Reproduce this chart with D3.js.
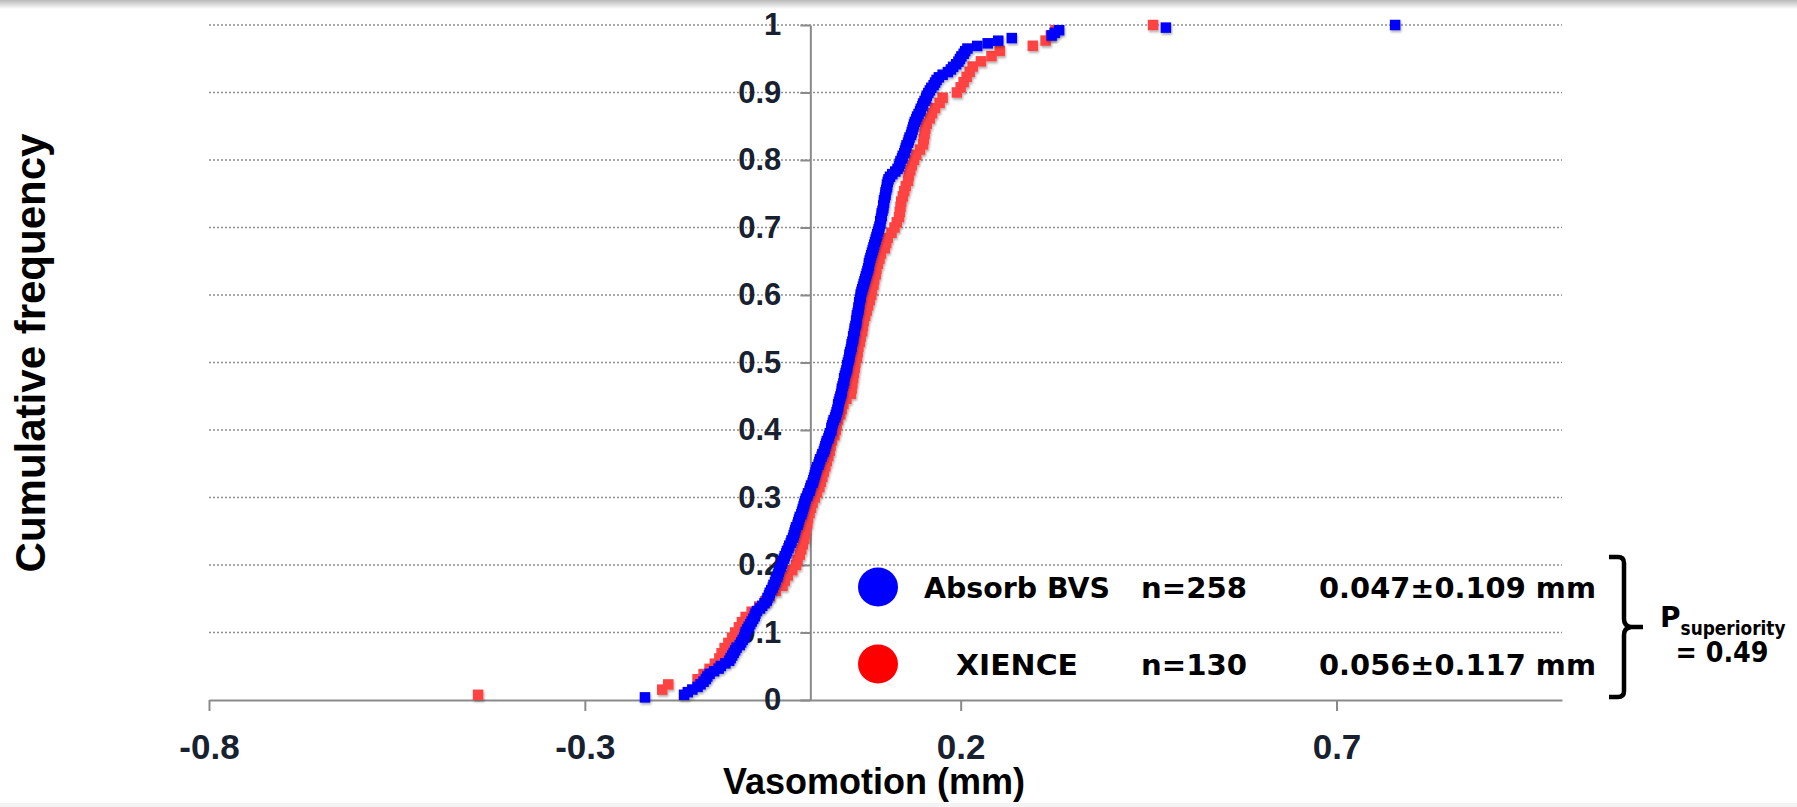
<!DOCTYPE html>
<html>
<head>
<meta charset="utf-8">
<script src="https://cdn.jsdelivr.net/npm/d3@7"></script>
<style>
  html, body { margin: 0; padding: 0; background: #fff; }
  svg { display: block; }
</style>
</head>
<body>
<div id="container"></div>
<script>
// sorted vasomotion values (mm)
var absorbValues = [
  -0.220, -0.168, -0.163, -0.157, -0.150, -0.146, -0.142, -0.139, -0.137, -0.134,
  -0.128, -0.122, -0.119, -0.113, -0.108, -0.106, -0.104, -0.102, -0.100, -0.098,
  -0.094, -0.092, -0.090, -0.088, -0.087, -0.086, -0.084, -0.082, -0.080, -0.078,
  -0.076, -0.074, -0.073, -0.071, -0.067, -0.064, -0.061, -0.058, -0.057, -0.055,
  -0.054, -0.052, -0.050, -0.049, -0.047, -0.046, -0.044, -0.043, -0.042, -0.041,
  -0.039, -0.038, -0.037, -0.035, -0.034, -0.032, -0.031, -0.029, -0.028, -0.026,
  -0.025, -0.023, -0.022, -0.021, -0.020, -0.019, -0.017, -0.016, -0.015, -0.014,
  -0.012, -0.011, -0.010, -0.009, -0.008, -0.007, -0.006, -0.004, -0.003, -0.001,
  0.000, 0.001, 0.003, 0.004, 0.005, 0.006, 0.007, 0.008, 0.009, 0.011,
  0.012, 0.013, 0.015, 0.016, 0.018, 0.019, 0.020, 0.021, 0.022, 0.024,
  0.025, 0.026, 0.028, 0.028, 0.029, 0.030, 0.031, 0.033, 0.034, 0.035,
  0.036, 0.037, 0.037, 0.038, 0.039, 0.040, 0.041, 0.042, 0.042, 0.043,
  0.044, 0.045, 0.045, 0.046, 0.047, 0.048, 0.049, 0.049, 0.050, 0.051,
  0.052, 0.052, 0.053, 0.054, 0.055, 0.055, 0.056, 0.057, 0.057, 0.058,
  0.059, 0.059, 0.060, 0.061, 0.061, 0.062, 0.062, 0.063, 0.064, 0.064,
  0.065, 0.065, 0.066, 0.067, 0.067, 0.068, 0.069, 0.070, 0.071, 0.072,
  0.073, 0.074, 0.075, 0.076, 0.077, 0.078, 0.078, 0.079, 0.080, 0.081,
  0.082, 0.083, 0.084, 0.085, 0.086, 0.087, 0.088, 0.089, 0.090, 0.091,
  0.092, 0.093, 0.093, 0.094, 0.095, 0.095, 0.096, 0.097, 0.097, 0.098,
  0.098, 0.099, 0.100, 0.100, 0.101, 0.102, 0.102, 0.103, 0.104, 0.106,
  0.109, 0.113, 0.116, 0.118, 0.119, 0.120, 0.122, 0.123, 0.125, 0.126,
  0.127, 0.128, 0.130, 0.131, 0.132, 0.134, 0.135, 0.136, 0.137, 0.138,
  0.139, 0.141, 0.142, 0.144, 0.146, 0.147, 0.149, 0.150, 0.152, 0.154,
  0.155, 0.157, 0.159, 0.161, 0.164, 0.166, 0.168, 0.171, 0.176, 0.183,
  0.187, 0.190, 0.194, 0.197, 0.199, 0.201, 0.204, 0.206, 0.209, 0.222,
  0.236, 0.250, 0.268, 0.321, 0.325, 0.331, 0.473, 0.778
];

var xienceValues = [
  -0.442, -0.197, -0.189, -0.150, -0.142, -0.134, -0.127, -0.121, -0.118, -0.114,
  -0.109, -0.104, -0.100, -0.095, -0.091, -0.086, -0.078, -0.068, -0.060, -0.054,
  -0.046, -0.037, -0.034, -0.030, -0.024, -0.019, -0.017, -0.014, -0.012, -0.010,
  -0.008, -0.007, -0.006, -0.004, -0.003, -0.001, 0.001, 0.003, 0.006, 0.009,
  0.012, 0.014, 0.016, 0.018, 0.020, 0.022, 0.024, 0.026, 0.027, 0.029,
  0.032, 0.034, 0.035, 0.037, 0.040, 0.042, 0.044, 0.048, 0.054, 0.055,
  0.056, 0.057, 0.058, 0.059, 0.060, 0.062, 0.063, 0.064, 0.066, 0.067,
  0.069, 0.070, 0.071, 0.073, 0.075, 0.077, 0.079, 0.081, 0.082, 0.084,
  0.085, 0.087, 0.088, 0.090, 0.092, 0.094, 0.099, 0.101, 0.103, 0.108,
  0.112, 0.115, 0.118, 0.119, 0.120, 0.121, 0.123, 0.125, 0.127, 0.130,
  0.131, 0.133, 0.135, 0.138, 0.141, 0.146, 0.150, 0.151, 0.152, 0.153,
  0.155, 0.159, 0.162, 0.166, 0.172, 0.176, 0.195, 0.200, 0.204, 0.208,
  0.212, 0.216, 0.227, 0.241, 0.252, 0.296, 0.313, 0.320, 0.326, 0.456
];

var xTickValues = [-0.8, -0.3, 0.2, 0.7];
var xTickLabels = ["-0.8", "-0.3", "0.2", "0.7"];
var yTickValues = [0, 0.1, 0.2, 0.3, 0.4, 0.5, 0.6, 0.7, 0.8, 0.9, 1];
var yTickLabels = ["0", "0.1", "0.2", "0.3", "0.4", "0.5", "0.6", "0.7", "0.8", "0.9", "1"];

var legendNames = ["Absorb BVS", "XIENCE"];
var legendCounts = ["n=258", "n=130"];
var legendStats = ["0.047\u00b10.109 mm", "0.056\u00b10.117 mm"];
var legendColors = ["#0000ff", "#ff0000"];

var width = 1797, height = 807;

var svg = d3.select("#container")
  .append("svg")
    .attr("width", width)
    .attr("height", height)
    .attr("id", "chart");

var defs = svg.append("defs");
var topGrad = defs.append("linearGradient").attr("id", "topband")
  .attr("x1", 0).attr("y1", 0).attr("x2", 0).attr("y2", 1);
topGrad.append("stop").attr("offset", "0%").attr("stop-color", "#b9b9b9");
topGrad.append("stop").attr("offset", "100%").attr("stop-color", "#ffffff");

var shadow = defs.append("filter").attr("id", "shadow")
  .attr("x", "-50%").attr("y", "-50%").attr("width", "200%").attr("height", "200%");
shadow.append("feDropShadow")
  .attr("dx", 1).attr("dy", 2).attr("stdDeviation", 1.2)
  .attr("flood-color", "#000").attr("flood-opacity", 0.3);

svg.append("rect").attr("x", 0).attr("y", 0).attr("width", width).attr("height", 9)
  .attr("fill", "url(#topband)");
svg.append("rect").attr("x", 0).attr("y", height - 4).attr("width", width).attr("height", 4)
  .attr("fill", "#f3f3f3");

var x = d3.scaleLinear().domain([-0.8, 1.0]).range([209, 1562]);
var y = d3.scaleLinear().domain([0, 1]).range([700, 25]);

// dotted gridlines
svg.append("g")
  .selectAll("line")
  .data(yTickValues.slice(1))
  .join("line")
    .attr("x1", x(-0.8))
    .attr("x2", x(1.0))
    .attr("y1", function(d) { return y(d); })
    .attr("y2", function(d) { return y(d); })
    .attr("stroke", "#8f8f8f")
    .attr("stroke-width", 1.5)
    .attr("stroke-dasharray", "2,2");

// x axis
var xAxis = svg.append("g")
  .attr("transform", "translate(0," + y(0) + ")")
  .call(d3.axisBottom(x)
    .tickValues(xTickValues)
    .tickFormat(function(d, i) { return xTickLabels[i]; })
    .tickSize(11)
    .tickPadding(23)
    .tickSizeOuter(0));
xAxis.select(".domain").attr("stroke", "#8a8a8a").attr("stroke-width", 2);
xAxis.selectAll(".tick line").attr("stroke", "#8a8a8a").attr("stroke-width", 2);
xAxis.selectAll(".tick text")
  .attr("fill", "#18212f")
  .attr("font-family", "'Liberation Sans', Arial, sans-serif")
  .attr("font-weight", "bold")
  .attr("font-size", 35);

// y axis
var yAxis = svg.append("g")
  .attr("transform", "translate(" + x(0) + ",0)")
  .call(d3.axisLeft(y)
    .tickValues(yTickValues)
    .tickFormat(function(d, i) { return yTickLabels[i]; })
    .tickSize(10)
    .tickPadding(19)
    .tickSizeOuter(0));
yAxis.select(".domain").attr("stroke", "#8a8a8a").attr("stroke-width", 2);
yAxis.selectAll(".tick line").attr("stroke", "#8a8a8a").attr("stroke-width", 2);
yAxis.selectAll(".tick text")
  .attr("fill", "#18212f")
  .attr("font-family", "'Liberation Sans', Arial, sans-serif")
  .attr("font-weight", "bold")
  .attr("font-size", 31);

// cumulative points
function ecdf(values) {
  var n = values.length;
  return values.map(function(v, i) { return { value: v, freq: (i + 1) / n }; });
}
var sq = 10.5;
var series = [
  { data: ecdf(xienceValues), color: "#ff4343" },
  { data: ecdf(absorbValues), color: "#0000ff" }
];
series.forEach(function(s) {
  svg.append("g")
    .attr("filter", "url(#shadow)")
    .selectAll("rect")
    .data(s.data)
    .join("rect")
      .attr("x", function(d) { return x(d.value) - sq / 2; })
      .attr("y", function(d) { return y(d.freq) - sq / 2; })
      .attr("width", sq)
      .attr("height", sq)
      .attr("fill", s.color);
});

// axis titles
svg.append("text")
  .attr("transform", "translate(45,353) rotate(-90)")
  .attr("text-anchor", "middle")
  .attr("font-family", "'Liberation Sans', Arial, sans-serif")
  .attr("font-weight", "bold")
  .attr("font-size", 42)
  .attr("fill", "#000")
  .text("Cumulative frequency");

svg.append("text")
  .attr("x", 874)
  .attr("y", 794)
  .attr("text-anchor", "middle")
  .attr("font-family", "'Liberation Sans', Arial, sans-serif")
  .attr("font-weight", "bold")
  .attr("font-size", 36)
  .attr("fill", "#000")
  .text("Vasomotion (mm)");

// legend
var legendFont = "'DejaVu Sans', Verdana, sans-serif";
var rowBase = [598, 675];
legendNames.forEach(function(name, i) {
  var g = svg.append("g");
  g.append("ellipse")
    .attr("cx", 878).attr("cy", rowBase[i] - 11)
    .attr("rx", 20).attr("ry", 19.5)
    .attr("fill", legendColors[i]);
  g.append("text")
    .attr("x", 1017).attr("y", rowBase[i])
    .attr("text-anchor", "middle")
    .attr("font-family", legendFont).attr("font-weight", "bold").attr("font-size", 29)
    .attr("textLength", i === 0 ? 186 : 122).attr("lengthAdjust", "spacingAndGlyphs")
    .text(name);
  g.append("text")
    .attr("x", 1141).attr("y", rowBase[i])
    .attr("font-family", legendFont).attr("font-weight", "bold").attr("font-size", 29)
    .attr("textLength", 106).attr("lengthAdjust", "spacingAndGlyphs")
    .text(legendCounts[i]);
  g.append("text")
    .attr("x", 1319).attr("y", rowBase[i])
    .attr("font-family", legendFont).attr("font-weight", "bold").attr("font-size", 29)
    .attr("textLength", 277).attr("lengthAdjust", "spacingAndGlyphs")
    .text(legendStats[i]);
});

// brace and p value
svg.append("path")
  .attr("d", "M1609,557 L1618,557 Q1624,557 1624,563 L1624,619 Q1624,626 1631,627 L1643,627 "
           + "M1631,627 Q1624,628 1624,635 L1624,691 Q1624,697 1618,697 L1609,697")
  .attr("fill", "none")
  .attr("stroke", "#000")
  .attr("stroke-width", 4.5);

var pText = svg.append("text")
  .attr("x", 1660).attr("y", 627)
  .attr("font-family", legendFont).attr("font-weight", "bold").attr("font-size", 28)
  .attr("fill", "#000");
pText.append("tspan").text("P");
pText.append("tspan")
  .attr("dy", 8).attr("font-size", 19)
  .attr("textLength", 105).attr("lengthAdjust", "spacingAndGlyphs")
  .text("superiority");

svg.append("text")
  .attr("x", 1722).attr("y", 662)
  .attr("text-anchor", "middle")
  .attr("font-family", legendFont).attr("font-weight", "bold").attr("font-size", 28)
  .attr("textLength", 93).attr("lengthAdjust", "spacingAndGlyphs")
  .text("= 0.49");
</script>
</body>
</html>
